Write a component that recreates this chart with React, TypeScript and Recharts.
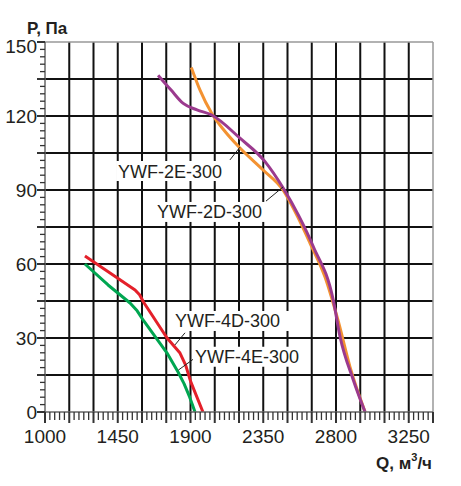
import React from 'react';
import {
  LineChart,
  Line,
  XAxis,
  YAxis,
  ReferenceLine,
  ReferenceDot,
} from 'recharts';

// Q, м³/ч и P, Па — точки
const curve2D = [
  { q: 1700, p: 136.5 },
  { q: 1780, p: 130.5 },
  { q: 1855, p: 125.1 },
  { q: 1940, p: 122.5 },
  { q: 2031, p: 120.4 },
  { q: 2206, p: 111 },
  { q: 2361, p: 101.5 },
  { q: 2474, p: 90.7 },
  { q: 2570, p: 79.5 },
  { q: 2660, p: 67 },
  { q: 2783, p: 45.4 },
  { q: 2825, p: 30.5 },
  { q: 2907, p: 13 },
  { q: 2980, p: 0 },
];

const curve2E = [
  { q: 1905, p: 139.7 },
  { q: 1959, p: 130.5 },
  { q: 2031, p: 121.1 },
  { q: 2110, p: 114 },
  { q: 2206, p: 107 },
  { q: 2349, p: 98.1 },
  { q: 2472, p: 90 },
  { q: 2560, p: 79.5 },
  { q: 2639, p: 68.5 },
  { q: 2732, p: 54.7 },
  { q: 2812, p: 37.3 },
  { q: 2887, p: 18.2 },
  { q: 2980, p: 0 },
];

const curve4D = [
  { q: 1247, p: 63.2 },
  { q: 1400, p: 56.5 },
  { q: 1557, p: 49.5 },
  { q: 1585, p: 47.5 },
  { q: 1610, p: 44.5 },
  { q: 1755, p: 30 },
  { q: 1835, p: 23.9 },
  { q: 1870, p: 19 },
  { q: 1900, p: 12.5 },
  { q: 1977, p: 0 },
];

const curve4E = [
  { q: 1247, p: 60 },
  { q: 1390, p: 51.5 },
  { q: 1526, p: 44.2 },
  { q: 1570, p: 41 },
  { q: 1610, p: 37 },
  { q: 1755, p: 23.9 },
  { q: 1823, p: 16.2 },
  { q: 1860, p: 11.5 },
  { q: 1895, p: 6 },
  { q: 1928, p: 0 },
];

const seriesNames = ['YWF-2D-300', 'YWF-2E-300', 'YWF-4D-300', 'YWF-4E-300'];

// подписи: положение текста (левый край, центр по высоте) и выноска
const labelSpots = [
  { name: 'YWF-2E-300', q: 1452, p: 97.7, from: [2144, 102.2], to: [2206, 107.4] },
  { name: 'YWF-2D-300', q: 1693, p: 81.1, from: [2367, 85.5], to: [2472, 91.2] },
  { name: 'YWF-4D-300', q: 1804, p: 36.9, from: [1866, 32.1], to: [1804, 27.2] },
  { name: 'YWF-4E-300', q: 1928, p: 22.4, from: [1917, 21.4], to: [1825, 17] },
];

const xDomain = [1000, 3400];
const yDomain = [0, 150];
const xMinorTicks = Array.from({ length: 81 }, (_, i) => 1000 + i * 30);
const xGridTicks = [1150, 1300, 1450, 1600, 1750, 1900, 2050, 2200, 2350, 2500, 2650, 2800, 2950, 3100, 3250];
const xLabelTicks = [1000, 1450, 1900, 2350, 2800, 3250];
const yMinorTicks = Array.from({ length: 51 }, (_, i) => i * 3);
const yGridTicks = [15, 30, 45, 60, 75, 90, 105, 120, 135];
const yLabelTicks = [0, 30, 60, 90, 120, 150];

const font = '"Liberation Sans", Arial, sans-serif';
const textColor = '#231f20';

const XTick = (props: any) => {
  const { x, y, payload } = props;
  const v = payload.value;
  const major = (v - 1000) % 150 === 0;
  return (
    <g>
      <line x1={x} x2={x} y1={y} y2={y + (major ? 11 : 8)} stroke="#333" strokeWidth={major ? 2 : 1.3} />
      {xLabelTicks.includes(v) && (
        <text x={x} y={y + 31} textAnchor="middle" fontSize={19} fontFamily={font} fill={textColor}>
          {v}
        </text>
      )}
    </g>
  );
};

const YTick = (props: any) => {
  const { x, y, payload } = props;
  const v = payload.value;
  const major = v % 15 === 0;
  return (
    <g>
      <line x1={x - (major ? 8 : 5)} x2={x} y1={y} y2={y} stroke="#333" strokeWidth={major ? 2 : 1.3} />
      {yLabelTicks.includes(v) && (
        <text x={x - 8} y={y + (v === 150 ? 11 : 7)} textAnchor="end" fontSize={19} fontFamily={font} fill={textColor}>
          {v}
        </text>
      )}
    </g>
  );
};

const labelShape = (name: string) => (props: any) => {
  const { cx, cy } = props;
  const w = name.length * 11.3;
  return (
    <g>
      <rect x={cx - 2} y={cy - 10} width={w + 4} height={20} fill="#fff" />
      <text x={cx} y={cy + 6.5} fontSize={18} fontFamily={font} fill={textColor}>
        {name}
      </text>
    </g>
  );
};

export default function App() {
  return (
    <div style={{ position: 'absolute', left: 0, top: 0, width: 461, height: 486, background: '#fff' }}>
      <LineChart width={461} height={486} margin={{ top: 42, right: 28, left: 5, bottom: 44 }}>
        <XAxis
          type="number"
          dataKey="q"
          domain={xDomain}
          ticks={xMinorTicks}
          interval={0}
          height={30}
          tickSize={0}
          tickMargin={0}
          tickLine={false}
          allowDataOverflow
          axisLine={{ stroke: '#666', strokeWidth: 1.5 }}
          tick={(p: any) => <XTick {...p} />}
        />
        <YAxis
          type="number"
          dataKey="p"
          domain={yDomain}
          ticks={yMinorTicks}
          interval={0}
          width={40}
          tickSize={0}
          tickMargin={0}
          tickLine={false}
          allowDataOverflow
          axisLine={{ stroke: '#666', strokeWidth: 1.5 }}
          tick={(p: any) => <YTick {...p} />}
        />
        {xGridTicks.map((v) => (
          <ReferenceLine key={'gx' + v} x={v} stroke="#111" strokeWidth={2} />
        ))}
        {yGridTicks.map((v) => (
          <ReferenceLine key={'gy' + v} y={v} stroke="#111" strokeWidth={2} />
        ))}
        <ReferenceLine y={150} stroke="#999" strokeWidth={1.5} />
        <ReferenceLine x={3400} stroke="#999" strokeWidth={1.5} />
        <Line data={curve2E} dataKey="p" name={seriesNames[1]} type="monotone" stroke="#F39232" strokeWidth={3} dot={false} isAnimationActive={false} />
        <Line data={curve2D} dataKey="p" name={seriesNames[0]} type="monotone" stroke="#9B3A8E" strokeWidth={3} dot={false} isAnimationActive={false} />
        <Line data={curve4D} dataKey="p" name={seriesNames[2]} type="linear" stroke="#E4202A" strokeWidth={3} strokeLinejoin="round" dot={false} isAnimationActive={false} />
        <Line data={curve4E} dataKey="p" name={seriesNames[3]} type="linear" stroke="#00A651" strokeWidth={3} strokeLinejoin="round" dot={false} isAnimationActive={false} />
        {labelSpots.map((l) => (
          <ReferenceDot key={l.name} x={l.q} y={l.p} r={0} shape={labelShape(l.name)} />
        ))}
        {labelSpots.map((l) => (
          <ReferenceLine
            key={l.name + '-lead'}
            segment={[{ x: l.from[0], y: l.from[1] }, { x: l.to[0], y: l.to[1] }]}
            stroke="#222"
            strokeWidth={1}
          />
        ))}
      </LineChart>
      <svg width={461} height={486} style={{ position: 'absolute', left: 0, top: 0, pointerEvents: 'none' }}>
        <text x={27} y={34} fontSize={17} fontWeight="bold" fontFamily={font} fill={textColor}>
          P, Па
        </text>
        <text x={376} y={469} fontSize={17} fontWeight="bold" fontFamily={font} fill={textColor}>
          Q, м<tspan fontSize={11} dy={-8}>3</tspan>
          <tspan dy={8}>/ч</tspan>
        </text>
      </svg>
    </div>
  );
}
